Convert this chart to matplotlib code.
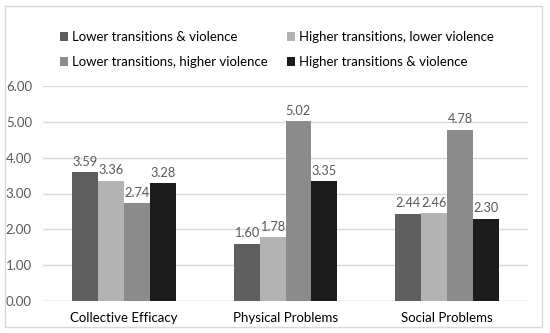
import matplotlib.pyplot as plt
import numpy as np
from matplotlib.patches import Rectangle

# Data
categories = ["Collective Efficacy", "Physical Problems", "Social Problems"]
series_names = [
    "Lower transitions & violence",
    "Higher transitions, lower violence",
    "Lower transitions, higher violence",
    "Higher transitions & violence",
]
low_both = [3.59, 1.60, 2.44]
high_trans_low_viol = [3.36, 1.78, 2.46]
low_trans_high_viol = [2.74, 5.02, 4.78]
high_both = [3.28, 3.35, 2.30]

series = [low_both, high_trans_low_viol, low_trans_high_viol, high_both]
colors = ["#5f5f5f", "#b3b3b3", "#8b8b8b", "#1c1c1c"]

plt.rcParams["font.family"] = ["Lato", "DejaVu Sans"]

fig = plt.figure(figsize=(5.5, 3.33), dpi=100)
ax = fig.add_axes([43 / 550, 1 - 301 / 333, 485 / 550, 215 / 333])

x = np.arange(len(categories))
width = 0.16
handles = []
for i, (vals, col, name) in enumerate(zip(series, colors, series_names)):
    pos = x + (i - 1.5) * width
    h = ax.bar(pos, vals, width, color=col, label=name, zorder=3)
    handles.append(h)
    for px, v in zip(pos, vals):
        ax.text(px, v + 0.12, f"{v:.2f}", ha="center", va="bottom",
                fontsize=9.2, color="#595959")

ax.set_xlim(-0.5, 2.5)
ax.set_ylim(0, 6)
ax.set_yticks(np.arange(0, 7, 1))
ax.set_yticklabels([f"{t:.2f}" for t in range(7)], fontsize=9.5, color="#595959")
ax.set_xticks(x)
ax.set_xticklabels(categories, fontsize=9.5, color="black")
ax.tick_params(length=0, pad=8)
ax.grid(axis="y", color="#d9d9d9", linewidth=1, zorder=0)
for s in ax.spines.values():
    s.set_visible(False)
ax.axhline(0, color="#d9d9d9", linewidth=1, zorder=2)

# legend rows: (0, 1) then (2, 3)
order = [0, 2, 1, 3]
fig.legend([handles[i] for i in order], [series_names[i] for i in order],
           ncol=2, loc="upper left", bbox_to_anchor=(60 / 550, 1 - 31 / 333),
           frameon=False, fontsize=9.5, handlelength=0.6, handleheight=0.6,
           handletextpad=0.3, columnspacing=1.5, labelspacing=1.0,
           borderpad=0, borderaxespad=0)

# outer chart border
fig.patches.append(Rectangle((5 / 550, 6 / 333), 537 / 550, 321 / 333,
                             transform=fig.transFigure, fill=False,
                             edgecolor="#d9d9d9", linewidth=1))

fig.savefig("out.png", dpi=100)
